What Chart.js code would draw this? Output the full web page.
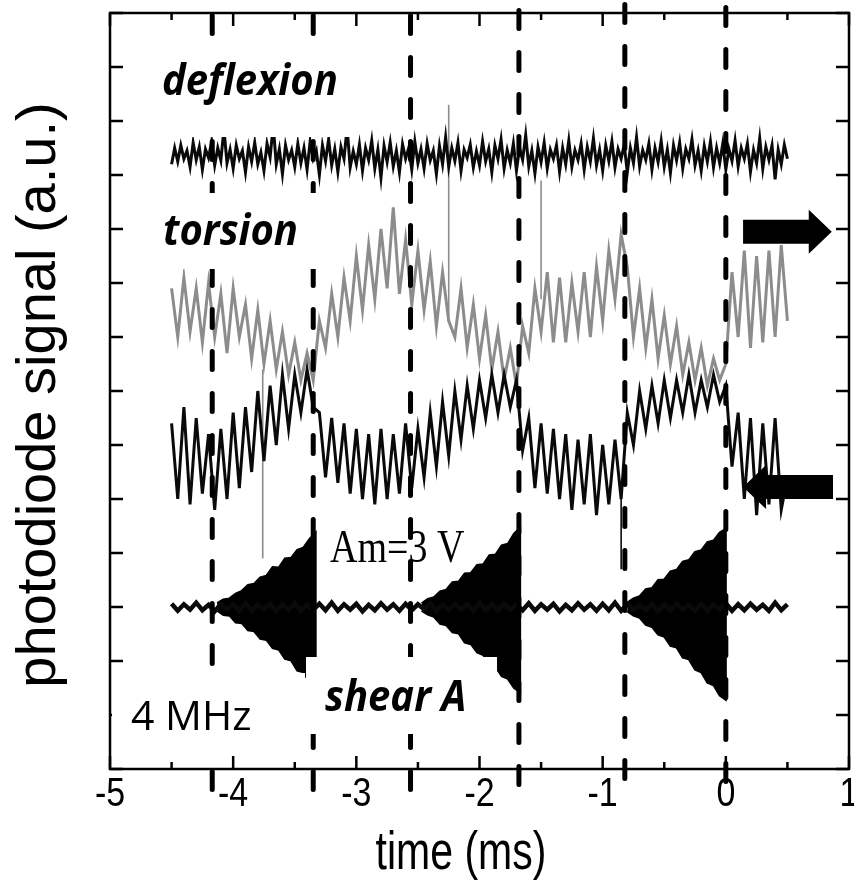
<!DOCTYPE html>
<html>
<head>
<meta charset="utf-8">
<title>photodiode signal</title>
<script src="https://cdn.jsdelivr.net/npm/chart.js@4.4.0/dist/chart.umd.min.js"></script>
<style>
  html, body { margin: 0; padding: 0; background: #fff; }
  canvas { display: block; }
</style>
</head>
<body>
<canvas id="fig" width="854" height="881"></canvas>
<script>
// time axis (ms) and signal axis (a.u.)
const xTicks = [-5, -4, -3, -2, -1, 0, 1];
const tStart = -4.5;
const stepSlow = 0.05;   // torsion traces and shear baseline
const stepFast = 0.025;  // deflexion trace

// deflexion trace
const deflexion = [
  11.20, 11.50, 11.25, 11.55, 11.30, 11.45, 11.15, 11.60, 11.28, 11.52, 11.10, 11.48, 11.32, 11.62, 11.18, 11.50, 11.27, 11.85, 11.22, 11.47,
  11.12, 11.55, 11.30, 11.45, 11.05, 11.52, 11.25, 11.60, 11.20, 11.42, 11.08, 11.58, 11.33, 11.92, 11.20, 11.48, 11.02, 11.55, 11.28, 11.46,
  11.15, 11.58, 11.22, 11.50, 11.10, 11.62, 11.30, 11.45, 11.00, 11.55, 11.26, 11.66, 11.18, 11.48, 11.06, 11.52, 11.30, 11.88, 11.14, 11.44,
  11.20, 11.56, 11.08, 11.50, 11.28, 11.64, 11.12, 11.47, 10.95, 11.54, 11.24, 11.60, 11.16, 11.45, 11.05, 11.57, 11.30, 11.50, 11.10, 11.62,
  11.22, 11.48, 11.12, 11.58, 11.27, 11.45, 11.02, 11.54, 11.20, 11.70, 11.15, 11.50, 11.26, 11.60, 11.08, 11.47, 11.32, 11.56, 11.14, 11.44,
  11.18, 11.62, 11.25, 11.48, 11.05, 11.55, 11.30, 11.66, 11.12, 11.46, 11.22, 11.58, 11.08, 11.50, 11.28, 11.74, 11.16, 11.45, 11.03, 11.52,
  11.24, 11.60, 11.12, 11.47, 11.30, 11.55, 11.06, 11.50, 11.20, 11.64, 11.15, 11.46, 11.28, 11.58, 11.10, 11.52, 11.25, 11.68, 11.18, 11.47,
  11.08, 11.55, 11.26, 11.62, 11.14, 11.48, 11.30, 11.56, 11.05, 11.50, 11.22, 11.70, 11.16, 11.46, 11.28, 11.58, 11.10, 11.50, 11.24, 11.63,
  11.15, 11.47, 11.04, 11.55, 11.27, 11.60, 11.12, 11.48, 11.30, 11.66, 11.18, 11.45, 11.08, 11.54, 11.25, 11.62, 11.14, 11.50, 11.22, 11.58,
  11.10, 11.48, 11.26, 11.64, 11.16, 11.50, 11.30, 11.58, 11.06, 11.46, 11.22, 11.68, 11.12, 11.52, 11.28, 11.55, 10.92, 11.47, 11.20, 11.56,
  11.30
];

// torsion, grey channel
const torsionGrey = [
  8.9, 8.0, 9.1, 8.1, 8.9, 7.9, 9.0, 8.0, 8.8, 7.7,
  8.9, 8.0, 8.6, 7.6, 8.5, 7.5, 8.3, 7.4, 8.1, 7.3,
  7.9, 7.2, 7.7, 7.2, 8.3, 7.8, 8.8, 8.0, 9.1, 8.3,
  9.5, 8.5, 9.7, 8.7, 10.0, 8.9, 10.4, 8.8, 9.8, 8.6,
  9.6, 8.5, 9.4, 8.2, 9.2, 8.3, 8.0, 8.9, 7.8, 8.6,
  7.6, 8.4, 7.4, 8.1, 7.2, 7.8, 7.1, 8.2, 7.7, 8.9,
  8.1, 9.2, 7.9, 9.1, 7.9, 9.0, 8.1, 9.2, 8.0, 9.3,
  8.3, 9.6, 8.7, 9.9, 9.3, 8.0, 8.9, 7.8, 8.7, 7.6,
  8.4, 7.5, 8.2, 7.3, 7.9, 7.2, 7.8, 7.1, 7.6, 7.2,
  7.5, 9.2, 8.0, 9.6, 7.8, 9.5, 7.9, 9.6, 8.0, 9.7,
  8.3
];

// torsion, black channel
const torsionBlack = [
  6.4, 5.0, 6.7, 4.9, 6.5, 5.1, 6.2, 4.8, 6.3, 5.0,
  6.6, 5.2, 6.7, 5.5, 7.0, 5.7, 7.1, 6.0, 7.3, 6.3,
  7.3, 6.6, 7.4, 6.7, 6.6, 5.4, 6.5, 5.3, 6.4, 5.1,
  6.3, 5.0, 6.2, 4.9, 6.3, 5.0, 6.2, 5.1, 6.4, 5.2,
  6.3, 5.4, 6.6, 5.6, 6.8, 5.8, 7.0, 6.1, 7.1, 6.3,
  7.2, 6.5, 7.3, 6.6, 7.3, 6.7, 7.2, 5.9, 6.5, 5.2,
  6.4, 5.1, 6.3, 5.0, 6.2, 4.8, 6.1, 4.9, 6.2, 4.7,
  6.0, 4.9, 6.1, 5.0, 6.6, 6.0, 7.0, 6.3, 7.1, 6.4,
  7.2, 6.5, 7.2, 6.6, 7.3, 6.6, 7.2, 6.7, 7.3, 6.8,
  7.1, 5.6, 6.6, 5.0, 6.5, 4.7, 6.4, 4.9, 6.5, 4.8,
  5.4
];

// single-sample glitches (time, low end, high end)
const glitchTime = [-3.76, -2.25, -1.50, -0.85];
const glitchLow  = [3.9, 8.4, 8.7, 3.7];
const glitchHigh = [7.4, 12.3, 10.9, 5.2];
const glitchGrey = [true, true, true, false];

// shear A: quiet baseline between the bursts
const shearBase = 3.0;
const shearQuiet = [
  3.06, 2.93, 3.05, 2.95, 3.08, 2.94, 3.04, 2.92, 3.06, 2.95, 3.05, 2.93, 3.07, 2.94, 3.04, 2.96, 3.06, 2.92, 3.05, 2.94,
  3.07, 2.93, 3.04, 2.95, 3.06, 2.94, 3.08, 2.93, 3.05, 2.95, 3.06, 2.92, 3.04, 2.94, 3.07, 2.95, 3.05, 2.93, 3.06, 2.94,
  3.05, 2.96, 3.07, 2.93, 3.04, 2.94, 3.06, 2.95, 3.05, 2.92, 3.08, 2.94, 3.05, 2.93, 3.06, 2.95, 3.04, 2.94, 3.07, 2.93,
  3.05, 2.95, 3.06, 2.92, 3.04, 2.94, 3.07, 2.95, 3.05, 2.93, 3.06, 2.94, 3.08, 2.93, 3.05, 2.95, 3.04, 2.94, 3.06, 2.92,
  3.05, 2.94, 3.07, 2.95, 3.04, 2.93, 3.06, 2.94, 3.05, 2.96, 3.07, 2.93, 3.05, 2.94, 3.06, 2.95, 3.04, 2.93, 3.08, 2.94,
  3.05
];

// shear A: 4 MHz bursts, upper and lower envelope every 0.05 ms from burst start
const burstStart = [-4.13, -2.47, -0.80];
const burstTop = [
  [3.07, 3.14, 3.16, 3.25, 3.30, 3.41, 3.43, 3.55, 3.58, 3.74, 3.73, 3.90, 3.91, 4.06, 4.10, 4.26, 4.38],
  [3.07, 3.15, 3.18, 3.29, 3.32, 3.46, 3.47, 3.62, 3.63, 3.78, 3.79, 3.96, 3.97, 4.14, 4.17, 4.36, 4.47],
  [3.08, 3.16, 3.20, 3.33, 3.35, 3.50, 3.51, 3.66, 3.69, 3.84, 3.87, 4.02, 4.05, 4.20, 4.23, 4.38, 4.45]
];
const burstBottom = [
  [2.93, 2.85, 2.84, 2.71, 2.70, 2.57, 2.55, 2.41, 2.39, 2.24, 2.21, 2.04, 2.01, 1.82, 1.79, 1.60, 1.52],
  [2.93, 2.86, 2.82, 2.69, 2.66, 2.53, 2.51, 2.34, 2.31, 2.16, 2.11, 1.94, 1.89, 1.72, 1.67, 1.50, 1.42],
  [2.92, 2.84, 2.80, 2.67, 2.63, 2.49, 2.45, 2.28, 2.25, 2.06, 2.03, 1.84, 1.79, 1.60, 1.55, 1.36, 1.28]
];

// trigger times (dashed markers)
const markTimes = [-4.17, -3.35, -2.56, -1.68, -0.82, 0.0];

const GREY = '#8c8c8c';
const INK = '#0a0a0a';

function series(t0, step, values) {
  return values.map((v, i) => ({ x: t0 + i * step, y: v }));
}

function burst(k, env) {
  const pts = series(burstStart[k], stepSlow, env);
  pts.push({ x: pts[pts.length - 1].x, y: shearBase });
  return pts;
}

const trace = (data, color, width, order) => ({
  data, borderColor: color, borderWidth: width, pointRadius: 0,
  tension: 0, fill: false, order, borderJoinStyle: 'miter'
});

const datasets = [
  trace(series(tStart, stepFast, deflexion), INK, 3, 1),
  trace(series(tStart, stepSlow, torsionBlack), INK, 3, 2),
  trace(series(tStart, stepSlow, torsionGrey), GREY, 3, 4),
  trace(series(tStart, stepSlow, shearQuiet), INK, 4.5, 1)
];
glitchTime.forEach((t, k) => {
  datasets.push(trace([{ x: t, y: glitchLow[k] }, { x: t, y: glitchHigh[k] }],
    glitchGrey[k] ? GREY : INK, 1.6, glitchGrey[k] ? 3 : 2));
});
burstStart.forEach((t, k) => {
  [burstTop[k], burstBottom[k]].forEach(env => {
    datasets.push({
      data: burst(k, env), borderColor: '#000', backgroundColor: '#000',
      borderWidth: 2, pointRadius: 0, tension: 0,
      fill: { value: shearBase }, order: 1
    });
  });
});

function seg(c, x1, y1, x2, y2) {
  c.beginPath(); c.moveTo(x1, y1); c.lineTo(x2, y2); c.stroke();
}

function text(c, s, x, y, font, sy, align) {
  c.save();
  c.translate(x, y);
  c.scale(1, sy);
  c.font = font;
  c.textAlign = align || 'left';
  c.textBaseline = 'alphabetic';
  c.fillStyle = '#000';
  c.fillText(s, 0, 0);
  c.restore();
}

function arrow(c, xs, ys, tTail, tTip, v) {
  const x0 = xs.getPixelForValue(tTail), x1 = xs.getPixelForValue(tTip);
  const y = ys.getPixelForValue(v);
  const dir = Math.sign(x1 - x0), head = 23;
  c.beginPath();
  c.moveTo(x0, y - 12);
  c.lineTo(x1 - dir * head, y - 12);
  c.lineTo(x1 - dir * head, y - 22);
  c.lineTo(x1, y);
  c.lineTo(x1 - dir * head, y + 22);
  c.lineTo(x1 - dir * head, y + 12);
  c.lineTo(x0, y + 12);
  c.closePath();
  c.fill();
}

const decor = {
  id: 'decor',
  beforeDraw(chart) {
    const c = chart.ctx;
    c.save();
    c.fillStyle = '#fff';
    c.fillRect(0, 0, chart.width, chart.height);
    c.restore();
  },
  afterDatasetsDraw(chart) {
    const c = chart.ctx, a = chart.chartArea;
    const xs = chart.scales.x, ys = chart.scales.y;
    c.save();
    c.strokeStyle = '#000';
    c.fillStyle = '#000';

    // inward ticks on all four sides
    c.lineWidth = 2.5;
    xs.ticks.forEach(tk => {
      const px = xs.getPixelForValue(tk.value);
      const len = Number.isInteger(tk.value) ? 13 : 7;
      seg(c, px, a.bottom, px, a.bottom - len);
      seg(c, px, a.top, px, a.top + len);
    });
    ys.ticks.forEach(tk => {
      const py = ys.getPixelForValue(tk.value);
      seg(c, a.left, py, a.left + 13, py);
      seg(c, a.right, py, a.right - 13, py);
    });

    // dashed trigger markers, running past the frame
    const startOff = [0, 0, 0, 5, 11, 8];
    c.lineWidth = 5;
    c.lineCap = 'round';
    c.setLineDash([18, 24]);
    markTimes.forEach((t, k) => {
      const px = xs.getPixelForValue(t);
      seg(c, px, a.top - startOff[k] + 2.5, px, a.bottom + 30);
    });
    c.setLineDash([]);
    c.lineCap = 'butt';

    // label backgrounds
    c.fillStyle = '#fff';
    c.fillRect(150, 36, 200, 101);
    c.fillRect(150, 193, 170, 76);
    c.fillRect(112, 673, 193, 81);
    c.fillRect(306, 657, 191, 77);

    // frame
    c.lineWidth = 2.5;
    c.strokeRect(a.left, a.top, a.right - a.left, a.bottom - a.top);

    // arrows
    c.fillStyle = '#000';
    arrow(c, xs, ys, 0.14, 0.86, 9.95);
    arrow(c, xs, ys, 0.87, 0.14, 5.22);

    // trace labels
    const bi = 'italic bold 40px "Open Sans"';
    text(c, 'deflexion', 162, 95, bi, 1.08);
    text(c, 'torsion', 163, 245, bi, 1.08);
    text(c, 'shear A', 325, 711, bi, 1.08);
    text(c, '4 MHz', 131, 730, '41px "Open Sans"', 1.0);
    text(c, 'Am=3 V', 330, 562, '38px "Liberation Serif"', 1.2);

    // axis numbers and titles
    xTicks.forEach(v => {
      text(c, String(v), xs.getPixelForValue(v), 806, '34px "Liberation Sans"', 1.2, 'center');
    });
    text(c, 'time (ms)', 461, 869, '41px "Liberation Sans"', 1.3, 'center');
    c.save();
    c.translate(55, 395);
    c.rotate(-Math.PI / 2);
    c.font = '56px "Liberation Sans"';
    c.textAlign = 'center';
    c.fillStyle = '#000';
    c.fillText('photodiode signal (a.u.)', 0, 0);
    c.restore();

    c.restore();
  }
};

new Chart(document.getElementById('fig'), {
  type: 'line',
  data: { datasets },
  options: {
    responsive: false,
    animation: false,
    devicePixelRatio: 1,
    layout: { padding: { left: 110, right: 5, top: 13, bottom: 0 } },
    plugins: { legend: { display: false }, tooltip: { enabled: false } },
    scales: {
      x: {
        type: 'linear', min: -5, max: 1,
        ticks: { display: false, stepSize: 0.5 },
        grid: { display: false }, border: { display: false },
        afterFit: s => { s.height = 112; }
      },
      y: {
        min: 0, max: 14,
        ticks: { display: false, stepSize: 1 },
        grid: { display: false }, border: { display: false },
        afterFit: s => { s.width = 0; }
      }
    }
  },
  plugins: [decor]
});
</script>
</body>
</html>
